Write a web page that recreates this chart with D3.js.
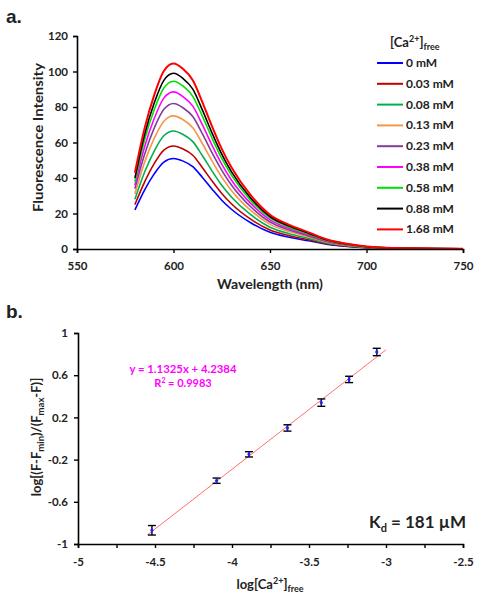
<!DOCTYPE html>
<html>
<head>
<meta charset="utf-8">
<script src="https://cdn.jsdelivr.net/npm/d3@7/dist/d3.min.js"></script>
<style>
  html, body { margin: 0; padding: 0; background: #fff; }
  svg { display: block; }
  text { font-family: Lato, "Open Sans", Arial, sans-serif; font-weight: bold; fill: #222; }
</style>
</head>
<body>
<svg id="chart" width="479" height="600"></svg>
<script>
// ---------- Panel a data ----------
const wavelengths = [580,585,590,595,600,605,610,615,620,625,630,640,650,660,670,680,690,700,710,720,735,750];
const seriesNames = ["0 mM","0.03 mM","0.08 mM","0.13 mM","0.23 mM","0.38 mM","0.58 mM","0.88 mM","1.68 mM"];
const seriesColors = ["#0000ff","#c00000","#00b050","#f79646","#7f3f98","#ff00ff","#00e000","#000000","#ff0000"];
const s0mM    = [22,33.2,42.3,49,51,49.5,46.4,40.3,33.7,27.5,22.4,14.8,9.4,6.6,4.6,2.6,1.4,0.7,0.4,0.2,0.1,0.05];
const s003mM  = [25,37.7,48.1,55.7,58,56.3,52.8,45.8,38.3,31.3,25.5,16.8,10.7,7.5,5.2,2.9,1.6,0.8,0.4,0.2,0.1,0.1];
const s008mM  = [28,43.2,55.2,63.8,66.5,64.5,60.5,52.5,43.9,35.9,29.3,19.3,12.3,8.6,6.0,3.3,1.9,0.9,0.5,0.3,0.1,0.1];
const s013mM  = [31,48.8,62.3,72,75,72.8,68.3,59.3,49.5,40.5,33,21.8,13.9,9.8,6.8,3.8,2.1,1.0,0.5,0.3,0.2,0.1];
const s023mM  = [34,53.3,68.1,78.7,82,79.5,74.6,64.8,54.1,44.3,36.1,23.8,15.2,10.7,7.4,4.1,2.3,1.1,0.6,0.3,0.2,0.1];
const s038mM  = [36,57.5,73.5,85,88.5,85.8,80.5,69.9,58.4,47.8,38.9,25.7,16.4,11.5,8.0,4.4,2.5,1.2,0.6,0.4,0.2,0.1];
const s058mM  = [38,61.4,78.4,90.7,94.5,91.7,86,74.7,62.4,51,41.6,27.4,17.5,12.3,8.5,4.7,2.6,1.2,0.7,0.4,0.2,0.1];
const s088mM  = [40,64.4,82.2,95,99,96,90.1,78.2,65.3,53.5,43.6,28.7,18.3,12.9,8.9,5.0,2.8,1.3,0.7,0.4,0.2,0.1];
const s168mM  = [43,67.9,86.7,100.3,104.5,101.4,95.1,82.6,69,56.4,46,30.3,19.3,13.6,9.4,5.2,2.9,1.4,0.7,0.4,0.2,0.1];
const seriesValues = [s0mM,s003mM,s008mM,s013mM,s023mM,s038mM,s058mM,s088mM,s168mM];
const aXTicks = [550,600,650,700,750];
const aYTicks = [0,20,40,60,80,100,120];

// ---------- Panel b data ----------
const logCa = [-4.52,-4.10,-3.89,-3.64,-3.42,-3.24,-3.06];
const logRatio = [-0.87,-0.40,-0.15,0.10,0.34,0.56,0.82];
const logErr = [0.045,0.025,0.025,0.03,0.035,0.03,0.035];
const fitSlope = 1.1325, fitIntercept = 4.2384;
const fitRange = [-4.55,-3.0];
const bXTicks = [-5,-4.75,-4.5,-4.25,-4,-3.75,-3.5,-3.25,-3,-2.75,-2.5];
const bXLabels = [-5,-4.5,-4,-3.5,-3,-2.5];
const bYTicks = [-1,-0.6,-0.2,0.2,0.6,1];

const svg = d3.select("#chart");
const hy = s => String(s).replace("\u2212","-");

// ======== Panel a ========
const xA = d3.scaleLinear().domain([550,750]).range([77,463]);
const yA = d3.scaleLinear().domain([0,120]).range([249,36]);

svg.append("text").attr("x",6).attr("y",23).style("font-family","Arial, 'Liberation Sans'").style("font-size","19px").text("a.");

const gA = svg.append("g");
const line = d3.line().x((d,i)=>xA(wavelengths[i])).y(d=>yA(d)).curve(d3.curveMonotoneX);
seriesValues.forEach((vals,k)=>{
  gA.append("path").datum(vals).attr("d",line).attr("fill","none")
    .attr("stroke",seriesColors[k]).attr("stroke-width", k===8 ? 2 : 1.6);
});

const axA_x = svg.append("g").attr("transform","translate(0,249)")
  .call(d3.axisBottom(xA).tickValues(aXTicks).tickSize(4).tickPadding(9).tickFormat(d3.format("d")));
const axA_y = svg.append("g").attr("transform","translate(77,0)")
  .call(d3.axisLeft(yA).tickValues(aYTicks).tickSize(4).tickPadding(5).tickFormat(d3.format("d")));
[axA_x, axA_y].forEach(ax=>{
  ax.select(".domain").attr("stroke","#000").attr("stroke-width",1.6);
  ax.selectAll(".tick line").attr("stroke","#000").attr("stroke-width",1.4);
  ax.selectAll(".tick text").style("font-size","11.5px").style("fill","#222").style("font-family","Lato, Arial, sans-serif").style("font-weight","bold");
});

svg.append("text").attr("x",270).attr("y",289).attr("text-anchor","middle").style("font-size","13px")
  .attr("textLength",106).attr("lengthAdjust","spacingAndGlyphs").text("Wavelength (nm)");
svg.append("text").attr("transform","translate(43,137.5) rotate(-90)").attr("text-anchor","middle").style("font-size","13.5px")
  .attr("textLength",149).attr("lengthAdjust","spacingAndGlyphs").text("Fluorescence Intensity");

// legend
const lgTitle = svg.append("text").attr("x",390).attr("y",47).style("font-size","13px");
lgTitle.append("tspan").text("[Ca");
lgTitle.append("tspan").attr("dy",-5).style("font-size","9px").text("2+");
lgTitle.append("tspan").attr("dy",5).text("]");
lgTitle.append("tspan").attr("dy",3).style("font-size","9px").text("free");

seriesNames.forEach((n,k)=>{
  const yy = 63 + k*20.8;
  svg.append("line").attr("x1",377).attr("x2",403).attr("y1",yy).attr("y2",yy)
    .attr("stroke",seriesColors[k]).attr("stroke-width",2);
  svg.append("text").attr("x",406).attr("y",yy+4).style("font-size","12px").text(n);
});

// ======== Panel b ========
const xB = d3.scaleLinear().domain([-5,-2.5]).range([78,463]);
const yB = d3.scaleLinear().domain([-1,1]).range([544,333]);

svg.append("text").attr("x",6).attr("y",318).style("font-family","Arial, 'Liberation Sans'").style("font-size","19px").text("b.");

svg.append("line").attr("x1",xB(fitRange[0])).attr("y1",yB(fitSlope*fitRange[0]+fitIntercept))
  .attr("x2",xB(fitRange[1])).attr("y2",yB(fitSlope*fitRange[1]+fitIntercept))
  .attr("stroke","#ff7070").attr("stroke-width",1);

const pts = logCa.map((x,i)=>({x, y:logRatio[i], e:logErr[i]}));
const eb = svg.append("g");
pts.forEach(p=>{
  const cx = xB(p.x);
  eb.append("line").attr("x1",cx).attr("x2",cx).attr("y1",yB(p.y-p.e)).attr("y2",yB(p.y+p.e)).attr("stroke","#000").attr("stroke-width",1.4);
  [p.y-p.e,p.y+p.e].forEach(v=>{
    eb.append("line").attr("x1",cx-4).attr("x2",cx+4).attr("y1",yB(v)).attr("y2",yB(v)).attr("stroke","#000").attr("stroke-width",1.4);
  });
  eb.append("path").attr("d",d3.symbol().type(d3.symbolDiamond).size(10)())
    .attr("transform",`translate(${cx},${yB(p.y)})`).attr("fill","#2020ff");
});

const axB_x = svg.append("g").attr("transform","translate(0,544)")
  .call(d3.axisBottom(xB).tickValues(bXTicks).tickSize(4).tickPadding(10)
    .tickFormat(d=> bXLabels.includes(d) ? hy(d3.format("")(d)) : ""));
const axB_y = svg.append("g").attr("transform","translate(78,0)")
  .call(d3.axisLeft(yB).tickValues(bYTicks).tickSize(4).tickPadding(6).tickFormat(d=>hy(d3.format("")(d))));
[axB_x, axB_y].forEach(ax=>{
  ax.select(".domain").attr("stroke","#000").attr("stroke-width",1.6);
  ax.selectAll(".tick line").attr("stroke","#000").attr("stroke-width",1.4);
  ax.selectAll(".tick text").style("font-size","11.5px").style("fill","#222").style("font-family","Lato, Arial, sans-serif").style("font-weight","bold");
});

// equation
svg.append("text").attr("x",183).attr("y",373).attr("text-anchor","middle").style("font-size","11px").style("fill","#ff00ff")
  .attr("textLength",107).attr("lengthAdjust","spacingAndGlyphs")
  .text(`y = ${fitSlope}x + ${fitIntercept}`);
const r2 = svg.append("text").attr("x",183).attr("y",387).attr("text-anchor","middle").style("font-size","11px").style("fill","#ff00ff");
r2.append("tspan").text("R");
r2.append("tspan").attr("dy",-4).style("font-size","7px").text("2");
r2.append("tspan").attr("dy",4).text(" = 0.9983");

// Kd
const kd = svg.append("text").attr("x",466).attr("y",528).attr("text-anchor","end").style("font-size","17px");
kd.append("tspan").text("K");
kd.append("tspan").attr("dy",4).style("font-size","11px").text("d");
kd.append("tspan").attr("dy",-4).text(" = 181 \u00B5M");

// axis titles
const bxt = svg.append("text").attr("x",270).attr("y",589).attr("text-anchor","middle").style("font-size","13px");
bxt.append("tspan").text("log[Ca");
bxt.append("tspan").attr("dy",-5).style("font-size","9px").text("2+");
bxt.append("tspan").attr("dy",5).text("]");
bxt.append("tspan").attr("dy",3).style("font-size","9px").text("free");

const byt = svg.append("text").attr("transform","translate(41,437) rotate(-90)").attr("text-anchor","middle").style("font-size","13px");
byt.append("tspan").text("log[(F-F");
byt.append("tspan").attr("dy",3).style("font-size","9.5px").text("min");
byt.append("tspan").attr("dy",-3).text(")/(F");
byt.append("tspan").attr("dy",3).style("font-size","9.5px").text("max");
byt.append("tspan").attr("dy",-3).text("-F)]");
</script>
</body>
</html>
